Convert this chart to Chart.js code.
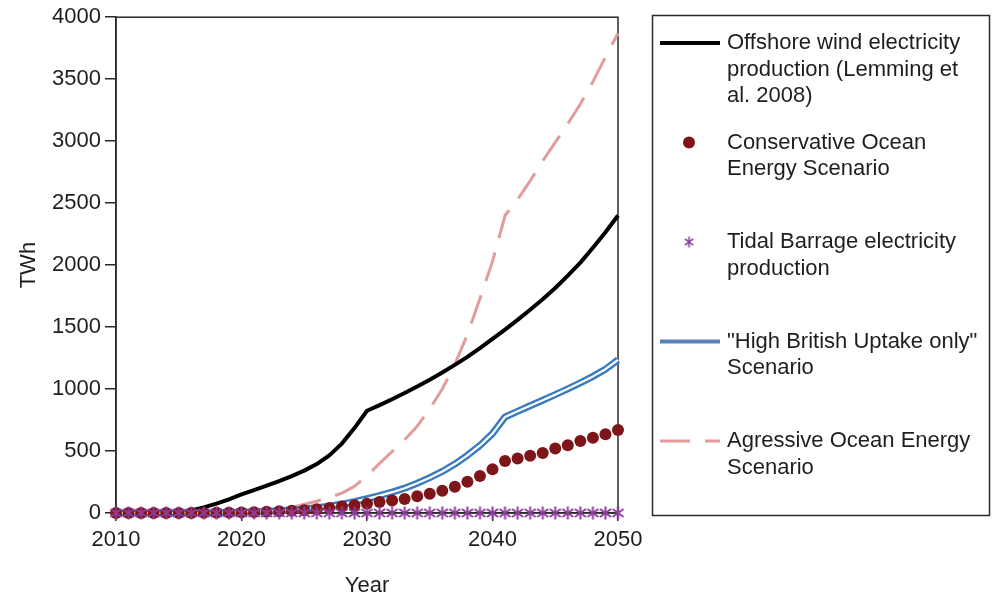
<!DOCTYPE html>
<html>
<head>
<meta charset="utf-8">
<script src="https://cdn.jsdelivr.net/npm/chart.js@4.4.1/dist/chart.umd.min.js"></script>
<style>
  html, body { margin: 0; padding: 0; background: #fff; }
  #wrap { width: 992px; height: 600px; }
</style>
</head>
<body>
<div id="wrap"><canvas id="c" width="992" height="600"></canvas></div>
<script>
// Years on the x axis
const years = [2010, 2011, 2012, 2013, 2014, 2015, 2016, 2017, 2018, 2019,
               2020, 2021, 2022, 2023, 2024, 2025, 2026, 2027, 2028, 2029,
               2030, 2031, 2032, 2033, 2034, 2035, 2036, 2037, 2038, 2039,
               2040, 2041, 2042, 2043, 2044, 2045, 2046, 2047, 2048, 2049, 2050];

// Electricity production, TWh (null = no value that year)
const offshoreWind = [null, null, null, null, null, 0, 20, 45, 75, 110,
                      150, 185, 220, 258, 298, 342, 395, 465, 560, 685,
                      825, 870, 918, 968, 1020, 1075, 1133, 1195, 1260, 1330,
                      1405, 1480, 1558, 1640, 1725, 1815, 1915, 2020, 2140, 2265, 2400];

const conservativeOcean = [0, 0, 0, 0, 0, 0, 0, 1, 2, 3,
                           5, 7, 10, 14, 18, 23, 30, 40, 52, 63,
                           75, 88, 100, 112, 135, 155, 180, 212, 252, 298,
                           352, 420, 440, 462, 485, 520, 547, 580, 608, 636, 670];

const tidalBarrage = [0, 0, 0, 0, 0, 0, 0, 0, 0, 0,
                      0, 0, 0, 0, 0, 0, 0, 0, 0, 0,
                      0, 0, 0, 0, 0, 0, 0, 0, 0, 0,
                      0, 0, 0, 0, 0, 0, 0, 0, 0, 0, 0];

const highBritish = [0, 0, 0, 0, 0, 0, 0, 0, 2, 4,
                     6, 9, 13, 18, 24, 32, 42, 55, 72, 92,
                     115, 140, 168, 200, 240, 285, 335, 395, 465, 545,
                     640, 775, 820, 865, 910, 955, 1002, 1050, 1102, 1160, 1235];

const aggressiveOcean = [null, null, null, null, null, null, null, null, null, null,
                         null, null, null, null, 45, 70, 95, 125, 160, 215,
                         300, 400, 495, 590, 700, 840, 1000, 1200, 1440, 1730,
                         2030, 2400, 2530, 2680, 2840, 2990, 3140, 3300, 3480, 3680, 3870];

// Axis ticks
const xTicks = [2010, 2020, 2030, 2040, 2050];
const yMax = 4000, yStep = 500;

// Legend texts (one array of lines per series)
const legendOffshore = ['Offshore wind electricity', 'production (Lemming et', 'al. 2008)'];
const legendConservative = ['Conservative Ocean', 'Energy Scenario'];
const legendTidal = ['Tidal Barrage electricity', 'production'];
const legendHighBritish = ['"High British Uptake only"', 'Scenario'];
const legendAggressive = ['Agressive Ocean Energy', 'Scenario'];

const FONT = '"Liberation Sans", Arial, Helvetica, sans-serif';
const INK = '#1e1e1e';
const C_BLACK = '#000000';
const C_RED = '#7e1518';
const C_PURPLE = '#8e3d9c';
const C_BLUE = '#3a7bbd';
const C_BLUE_LEGEND = '#5b82b8';
const C_PINK = '#e39c9c';

const toPoints = (vals) => years.map((y, i) => ({ x: y, y: vals[i] }));

// Six-armed asterisk used as point marker
function makeAsterisk(w, h, color, lw, angles) {
  const c = document.createElement('canvas');
  c.width = w; c.height = h;
  const g = c.getContext('2d');
  g.strokeStyle = color; g.lineWidth = lw; g.lineCap = 'butt';
  const mx = w / 2, my = h / 2;
  angles.forEach(a => {
    const t = a * Math.PI / 180;
    const rx = (w / 2 - 0.5) * Math.cos(t), ry = (h / 2 - 0.5) * Math.sin(t);
    g.beginPath();
    g.moveTo(mx - rx, my - ry);
    g.lineTo(mx + rx, my + ry);
    g.stroke();
  });
  return c;
}
const asteriskMark = makeAsterisk(15, 14, C_PURPLE, 2, [90, 38, 142]);
const asteriskLegend = makeAsterisk(11, 12, C_PURPLE, 1.6, [90, 35, 145]);

// Box around the plotting area
const framePlugin = {
  id: 'frame',
  beforeDatasetsDraw(chart) {
    const { ctx, chartArea: a } = chart;
    ctx.save();
    ctx.strokeStyle = '#2a2a2a';
    ctx.lineWidth = 1.5;
    ctx.strokeRect(a.left, a.top, a.right - a.left, a.bottom - a.top);
    ctx.restore();
  }
};

// Boxed legend to the right of the plot, with wrapped labels
const sideLegendPlugin = {
  id: 'sideLegend',
  afterDraw(chart) {
    const ctx = chart.ctx;
    const boxL = 652.5, boxT = 15.5, boxW = 337, boxH = 500;
    const symL = 660, symR = 720, symC = 689, textX = 727;
    const firstY = 43, step = 99.5, lineGap = 26.5;
    ctx.save();
    ctx.strokeStyle = '#2a2a2a';
    ctx.lineWidth = 1.5;
    ctx.strokeRect(boxL, boxT, boxW, boxH);
    ctx.font = '22px ' + FONT;
    ctx.textBaseline = 'middle';
    ctx.textAlign = 'left';
    chart.data.datasets.filter(d => d.legendLines).forEach((d, i) => {
      const y = firstY + i * step;
      ctx.save();
      if (d.legendKind === 'line') {
        ctx.strokeStyle = d.legendColor || d.borderColor;
        ctx.lineWidth = d.legendWidth || d.borderWidth;
        ctx.setLineDash(d.borderDash || []);
        ctx.beginPath(); ctx.moveTo(symL, y); ctx.lineTo(symR, y); ctx.stroke();
      } else if (d.legendKind === 'circle') {
        ctx.fillStyle = d.backgroundColor;
        ctx.beginPath(); ctx.arc(symC, y, 6, 0, Math.PI * 2); ctx.fill();
      } else if (d.legendKind === 'asterisk') {
        ctx.drawImage(asteriskLegend, symC - 5.5, y - 6);
      }
      ctx.restore();
      ctx.fillStyle = INK;
      d.legendLines.forEach((t, j) => ctx.fillText(t, textX, y + j * lineGap));
    });
    ctx.restore();
  }
};

new Chart(document.getElementById('c'), {
  type: 'line',
  data: {
    datasets: [
      {
        label: legendOffshore.join(' '),
        legendLines: legendOffshore, legendKind: 'line',
        data: toPoints(offshoreWind),
        borderColor: C_BLACK, borderWidth: 4, pointRadius: 0,
        order: 4, clip: false
      },
      {
        label: legendConservative.join(' '),
        legendLines: legendConservative, legendKind: 'circle',
        data: toPoints(conservativeOcean),
        showLine: false, pointStyle: 'circle', pointRadius: 6,
        backgroundColor: C_RED, borderColor: C_RED, borderWidth: 0,
        order: 1, clip: false
      },
      {
        label: legendTidal.join(' '),
        legendLines: legendTidal, legendKind: 'asterisk',
        data: toPoints(tidalBarrage),
        showLine: false, pointStyle: asteriskMark, pointRadius: 7,
        order: 0, clip: false
      },
      {
        label: legendHighBritish.join(' '),
        legendLines: legendHighBritish, legendKind: 'line',
        legendColor: C_BLUE_LEGEND, legendWidth: 4,
        data: toPoints(highBritish),
        borderColor: C_BLUE, borderWidth: 7, pointRadius: 0,
        order: 3, clip: false
      },
      {
        // white core giving the blue series its double-line look
        label: 'core',
        data: toPoints(highBritish),
        borderColor: '#ffffff', borderWidth: 2.2, pointRadius: 0,
        order: 2, clip: false
      },
      {
        label: legendAggressive.join(' '),
        legendLines: legendAggressive, legendKind: 'line',
        data: toPoints(aggressiveOcean),
        borderColor: C_PINK, borderWidth: 3, borderDash: [30, 15], pointRadius: 0,
        order: 5, clip: false
      }
    ]
  },
  options: {
    responsive: false,
    animation: false,
    devicePixelRatio: 1,
    layout: { padding: { top: 16, right: 374, bottom: 0, left: 0 } },
    plugins: { legend: { display: false }, tooltip: { enabled: false } },
    elements: { line: { tension: 0, borderCapStyle: 'butt', borderJoinStyle: 'round' } },
    scales: {
      x: {
        type: 'linear', min: 2010, max: 2050,
        afterBuildTicks: (s) => { s.ticks = xTicks.map(v => ({ value: v })); },
        afterFit: (s) => { s.height = 87; },
        ticks: {
          color: INK, font: { family: FONT, size: 22 }, padding: 6,
          maxRotation: 0, callback: (v) => String(v)
        },
        grid: { display: true, drawOnChartArea: false, drawTicks: true, tickLength: 8, color: '#2a2a2a', lineWidth: 1.5 },
        border: { display: true, color: '#2a2a2a', width: 1.5 },
        title: { display: true, text: 'Year', color: INK, font: { family: FONT, size: 22 }, padding: { top: 0, bottom: 1 } }
      },
      y: {
        min: 0, max: yMax,
        afterFit: (s) => { s.width = 116; },
        ticks: { stepSize: yStep, color: INK, font: { family: FONT, size: 22 }, padding: 4, callback: (v) => String(v) },
        grid: { display: true, drawOnChartArea: false, drawTicks: true, tickLength: 11, color: '#2a2a2a', lineWidth: 1.5 },
        border: { display: true, color: '#2a2a2a', width: 1.5 },
        title: { display: true, text: 'TWh', color: INK, font: { family: FONT, size: 22 }, padding: { top: 16, bottom: 0 } }
      }
    }
  },
  plugins: [framePlugin, sideLegendPlugin]
});
</script>
</body>
</html>
